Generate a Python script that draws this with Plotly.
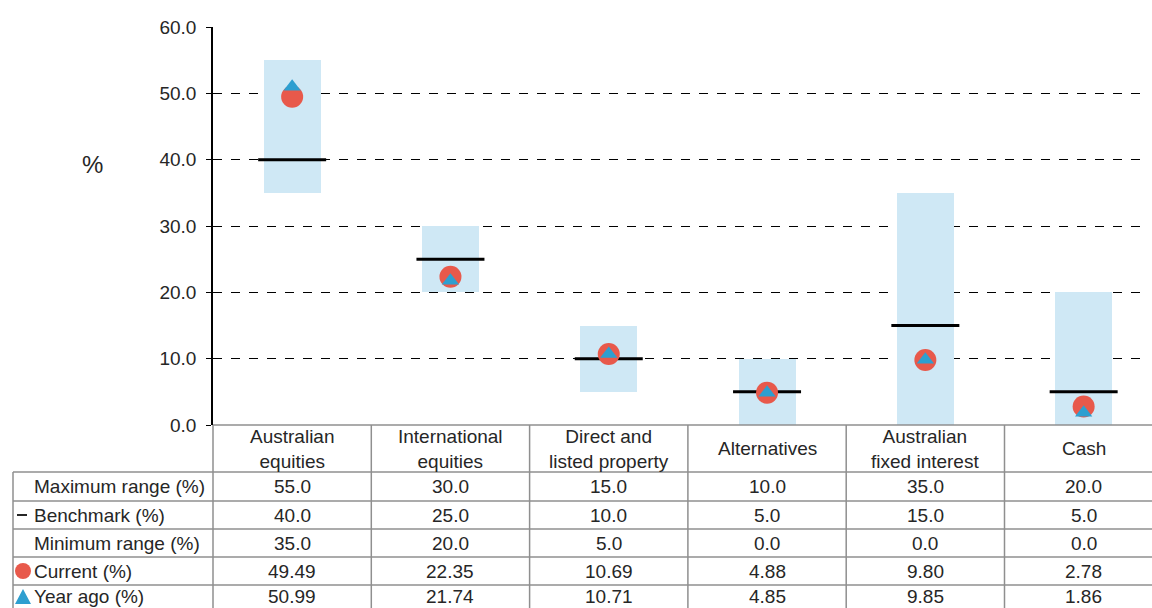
import plotly.graph_objects as go

# ---- data -------------------------------------------------------------
categories = ["Australian<br>equities", "International<br>equities",
              "Direct and<br>listed property", "Alternatives",
              "Australian<br>fixed interest", "Cash"]
max_range = [55.0, 30.0, 15.0, 10.0, 35.0, 20.0]
benchmark = [40.0, 25.0, 10.0, 5.0, 15.0, 5.0]
min_range = [35.0, 20.0, 5.0, 0.0, 0.0, 0.0]
current = [49.49, 22.35, 10.69, 4.88, 9.80, 2.78]
year_ago = [50.99, 21.74, 10.71, 4.85, 9.85, 1.86]
y_ticks = [0, 10, 20, 30, 40, 50, 60]
row_labels = ["Maximum range (%)", "Benchmark (%)", "Minimum range (%)",
              "Current (%)", "Year ago (%)"]

# ---- layout constants (pixels) ---------------------------------------
W, H = 1152, 608
PLOT_L, PLOT_R = 213, 1148
PLOT_T, PLOT_B = 27, 425
COL_W = 158.3
X_RANGE = [-0.5, -0.5 + (PLOT_R - PLOT_L) / COL_W]

BOX_COLOR = "#cfe8f5"
RED = "#e8594b"
BLUE = "#2e9fd0"
GRID_GRAY = "#8f8f8f"
TEXT = "#262626"
FONT = "Arial"
FS = 19


def px(v):
    """paper x of a data-x position"""
    return (PLOT_L + (v - X_RANGE[0]) / (X_RANGE[1] - X_RANGE[0]) * (PLOT_R - PLOT_L)) / W


def fx(p):
    return p / W


def fy(p):
    return 1 - p / H


xs = list(range(len(categories)))

fig = go.Figure()

# allowed range boxes
fig.add_trace(go.Bar(
    x=xs, y=[hi - lo for hi, lo in zip(max_range, min_range)], base=min_range,
    width=0.36, marker=dict(color=BOX_COLOR, line=dict(width=0)),
    hoverinfo="skip"))

# benchmark (line-ew spans 1.4 x size)
fig.add_trace(go.Scatter(
    x=xs, y=benchmark, mode="markers", cliponaxis=False,
    marker=dict(symbol="line-ew", size=68 / 1.4, line=dict(width=3, color="#000000"))))

# current allocation
fig.add_trace(go.Scatter(
    x=xs, y=current, mode="markers", cliponaxis=False,
    marker=dict(symbol="circle", size=22, color=RED, line=dict(width=0))))

# year-ago allocation
fig.add_trace(go.Scatter(
    x=xs, y=year_ago, mode="markers", cliponaxis=False,
    marker=dict(symbol="triangle-up", size=15, color=BLUE, line=dict(width=0))))

shapes = []
annotations = []

# table grid
row_lines = [472, 501, 529, 557, 585]
row_centers = [486.5, 515, 543, 571, 596]
shapes.append(dict(type="line", xref="paper", yref="paper",
                   x0=fx(PLOT_L), x1=1, y0=fy(PLOT_B), y1=fy(PLOT_B),
                   line=dict(color=GRID_GRAY, width=1.5), layer="above"))
for yl in row_lines:
    shapes.append(dict(type="line", xref="paper", yref="paper",
                       x0=fx(13), x1=1, y0=fy(yl), y1=fy(yl),
                       line=dict(color=GRID_GRAY, width=1.5)))
shapes.append(dict(type="line", xref="paper", yref="paper",
                   x0=fx(13), x1=fx(13), y0=fy(row_lines[0]), y1=0,
                   line=dict(color=GRID_GRAY, width=1.5)))
for i in range(len(categories)):
    b = px(i - 0.5)
    shapes.append(dict(type="line", xref="paper", yref="paper",
                       x0=b, x1=b, y0=fy(PLOT_B), y1=0,
                       line=dict(color=GRID_GRAY, width=1.5)))

# header labels
for i, c in enumerate(categories):
    annotations.append(dict(x=i, xref="x", y=fy(448.5), yref="paper",
                            text=c, showarrow=False, xanchor="center", yanchor="middle",
                            font=dict(family=FONT, size=FS, color=TEXT)))

# table rows
rows = [
    [f"{v:.1f}" for v in max_range],
    [f"{v:.1f}" for v in benchmark],
    [f"{v:.1f}" for v in min_range],
    [f"{v:.2f}" for v in current],
    [f"{v:.2f}" for v in year_ago],
]
for r, (label, vals, yc) in enumerate(zip(row_labels, rows, row_centers)):
    annotations.append(dict(x=fx(32), xref="paper", y=fy(yc), yref="paper",
                            text=label, showarrow=False, xanchor="left", yanchor="middle",
                            font=dict(family=FONT, size=FS, color=TEXT)))
    for i, t in enumerate(vals):
        annotations.append(dict(x=i, xref="x", y=fy(yc), yref="paper",
                                text=t, showarrow=False, xanchor="center", yanchor="middle",
                                font=dict(family=FONT, size=FS, color=TEXT)))

# legend keys inside the row labels
shapes.append(dict(type="line", xref="paper", yref="paper",
                   x0=fx(17), x1=fx(27), y0=fy(515), y1=fy(515),
                   line=dict(color=TEXT, width=2)))
shapes.append(dict(type="circle", xref="paper", yref="paper",
                   x0=fx(15), x1=fx(31), y0=fy(579), y1=fy(563),
                   fillcolor=RED, line=dict(width=0)))
shapes.append(dict(type="path", xref="paper", yref="paper",
                   path=f"M {fx(15)},{fy(604)} L {fx(31)},{fy(604)} L {fx(23)},{fy(589)} Z",
                   fillcolor=BLUE, line=dict(width=0)))

# y axis title
annotations.append(dict(x=fx(92), xref="paper", y=fy(165), yref="paper",
                        text="%", showarrow=False, xanchor="center", yanchor="middle",
                        font=dict(family=FONT, size=24, color=TEXT)))

fig.update_layout(
    width=W, height=H,
    margin=dict(l=0, r=0, t=0, b=0, autoexpand=False),
    paper_bgcolor="white", plot_bgcolor="white",
    showlegend=False, bargap=0,
    shapes=shapes, annotations=annotations,
    xaxis=dict(domain=[fx(PLOT_L), fx(PLOT_R)], range=X_RANGE, automargin=False,
               showticklabels=False, showgrid=False, zeroline=False,
               showline=False, ticks=""),
    yaxis=dict(domain=[fy(PLOT_B), fy(PLOT_T)], range=[0, 60], automargin=False,
               tickvals=y_ticks, ticktext=[f"{v:.1f}" for v in y_ticks],
               showgrid=True, griddash="dash", gridcolor="#000000", gridwidth=1,
               zeroline=False, showline=True, linecolor="#000000", linewidth=1.5,
               ticks="outside", ticklen=5, tickcolor="#000000", tickwidth=1,
               ticklabelstandoff=6,
               tickfont=dict(family=FONT, size=FS, color=TEXT)),
)

fig.write_html("out.html")
